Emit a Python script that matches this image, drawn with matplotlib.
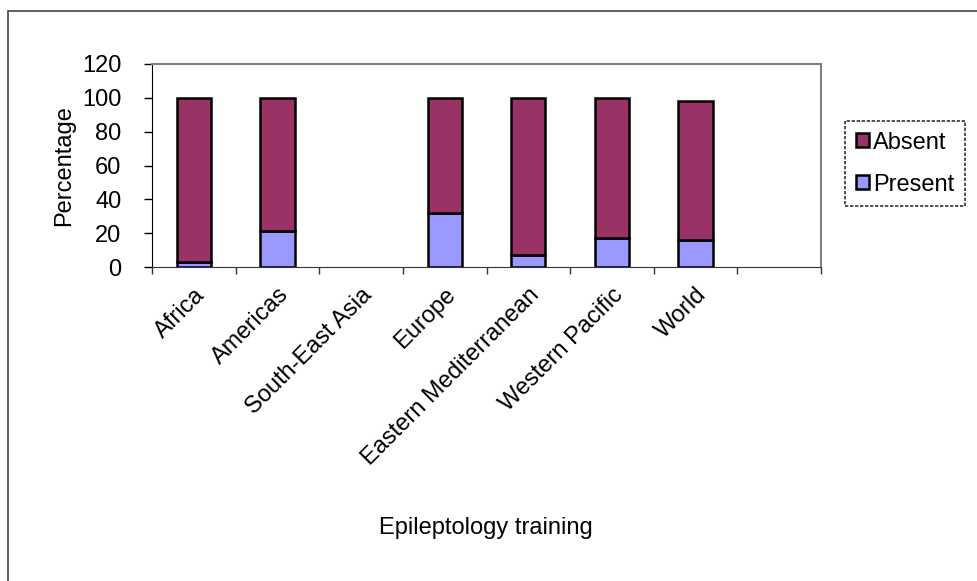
import numpy as np
import matplotlib
matplotlib.use("Agg")
import matplotlib.pyplot as plt
from matplotlib.patches import Rectangle

plt.rcParams['font.family'] = ['Liberation Sans', 'DejaVu Sans']

# regions (last slot is left empty on the axis)
regions = ["Africa", "Americas", "South-East Asia", "Europe",
           "Eastern Mediterranean", "Western Pacific", "World", ""]
present = [3, 21, np.nan, 32, 7, 17, 16, np.nan]
absent = [97, 79, np.nan, 68, 93, 83, 82, np.nan]

FS = 17

fig = plt.figure(figsize=(9.77, 5.81), dpi=100)
ax = fig.add_axes([152/977, 1-267/581, (821-152)/977, (267-64)/581])

# outer chart frame
fig.patches.append(Rectangle((8/977, -0.2), 1.2, 1.2-11/581, transform=fig.transFigure,
                             fill=False, edgecolor='#444444', linewidth=1.2))

x = np.arange(len(regions)) + 0.5
w = 0.41
ax.bar(x, present, w, color='#9999FF', edgecolor='black', linewidth=1.8, label='Present')
ax.bar(x, absent, w, bottom=present, color='#993366', edgecolor='black', linewidth=1.8, label='Absent')

ax.set_xlim(0, len(regions))
ax.set_ylim(0, 120)
ax.set_yticks(range(0, 121, 20))
ax.tick_params(axis='y', labelsize=FS, length=6, width=1, direction='out', pad=16)

# ticks between categories, labels at centres
ax.set_xticks(np.arange(len(regions) + 1))
ax.set_xticklabels([])
ax.tick_params(axis='x', which='major', length=5, width=1, direction='out', color='#333333')
ax.set_xticks(x, minor=True)
ax.set_xticklabels(regions, minor=True, rotation=45, ha='right', rotation_mode='anchor', fontsize=FS)
ax.tick_params(axis='x', which='minor', length=0, pad=12)
for lbl in ax.get_xticklabels(minor=True):
    lbl.set_x(lbl.get_position()[0])

for s in ['top', 'right']:
    ax.spines[s].set_color('#808080')
    ax.spines[s].set_linewidth(1.5)
ax.spines['left'].set_color('black')
ax.spines['bottom'].set_color('#333333')

ax.set_ylabel("Percentage", fontsize=FS, labelpad=5)
fig.text(486/977, 1-528/581, "Epileptology training", ha='center', va='center', fontsize=FS)

handles, labels = ax.get_legend_handles_labels()
leg = fig.legend(handles[::-1], labels[::-1], loc='upper left',
                 bbox_to_anchor=(845/977, 1-121/581), fontsize=FS,
                 frameon=True, fancybox=False, handlelength=0.55, handleheight=0.55,
                 handletextpad=0.2, labelspacing=0.85, borderpad=0.45, borderaxespad=0)
leg.get_frame().set_edgecolor('black')
leg.get_frame().set_linestyle((0, (2, 1)))
leg.get_frame().set_linewidth(1.2)

fig.savefig("out.png", dpi=100)
